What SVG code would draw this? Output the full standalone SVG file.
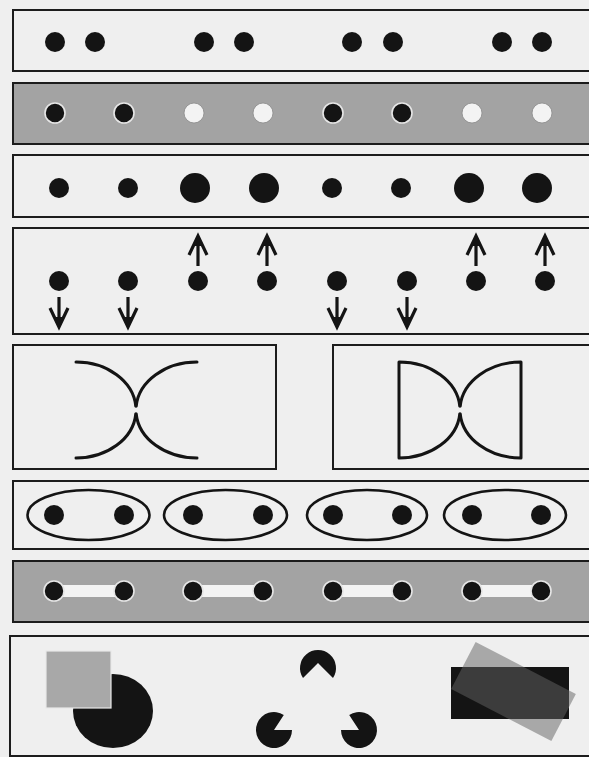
<svg xmlns="http://www.w3.org/2000/svg" width="589" height="757" viewBox="0 0 589 757">
<style>
.panel{fill:#efefef;stroke:#1c1c1c;stroke-width:2}
.gpanel{fill:#a3a3a3;stroke:#1c1c1c;stroke-width:2}
.d{fill:#141414}
.dh{fill:#141414;stroke:#e6e6e6;stroke-width:1.6}
.w{fill:#f3f3f3;stroke:#8a8a8a;stroke-width:0.8}
.curve{fill:none;stroke:#141414;stroke-width:3;stroke-linecap:round;stroke-linejoin:round}
.ell{fill:none;stroke:#141414;stroke-width:2.6}
.arr{fill:none;stroke:#141414;stroke-width:3.2;stroke-linecap:butt;stroke-linejoin:miter}
.tip{fill:#141414}
.bar{fill:#f3f3f3}
</style>
<defs>
<g id="arrowUp"><path class="arr" d="M0,266 L0,240 M-9,255 L0,236 L9,255"/><path class="tip" d="M0,234 L-4,246 L4,246 Z"/></g>
<g id="arrowDown"><path class="arr" d="M0,297 L0,323 M-9,308 L0,327 L9,308"/><path class="tip" d="M0,329 L-4,317 L4,317 Z"/></g>
<clipPath id="blackClip"><rect x="451" y="667" width="118" height="52"/></clipPath>
</defs>
<rect width="589" height="757" fill="#efefef"/>

<g id="row1">
<rect class="panel" x="13" y="10" width="590" height="61"/>
<circle class="d" cx="55" cy="42" r="10"/><circle class="d" cx="95" cy="42" r="10"/>
<circle class="d" cx="204" cy="42" r="10"/><circle class="d" cx="244" cy="42" r="10"/>
<circle class="d" cx="352" cy="42" r="10"/><circle class="d" cx="393" cy="42" r="10"/>
<circle class="d" cx="502" cy="42" r="10"/><circle class="d" cx="542" cy="42" r="10"/>
</g>

<g id="row2">
<rect class="gpanel" x="13" y="83" width="590" height="61"/>
<circle class="dh" cx="55" cy="113" r="10"/><circle class="dh" cx="124" cy="113" r="10"/>
<circle class="w" cx="194" cy="113" r="10"/><circle class="w" cx="263" cy="113" r="10"/>
<circle class="dh" cx="333" cy="113" r="10"/><circle class="dh" cx="402" cy="113" r="10"/>
<circle class="w" cx="472" cy="113" r="10"/><circle class="w" cx="542" cy="113" r="10"/>
</g>

<g id="row3">
<rect class="panel" x="13" y="155" width="590" height="62"/>
<circle class="d" cx="59" cy="188" r="10"/><circle class="d" cx="128" cy="188" r="10"/>
<circle class="d" cx="195" cy="188" r="15"/><circle class="d" cx="264" cy="188" r="15"/>
<circle class="d" cx="332" cy="188" r="10"/><circle class="d" cx="401" cy="188" r="10"/>
<circle class="d" cx="469" cy="188" r="15"/><circle class="d" cx="537" cy="188" r="15"/>
</g>

<g id="row4">
<rect class="panel" x="13" y="228" width="590" height="106"/>
<circle class="d" cx="59" cy="281" r="10"/><circle class="d" cx="128" cy="281" r="10"/>
<circle class="d" cx="198" cy="281" r="10"/><circle class="d" cx="267" cy="281" r="10"/>
<circle class="d" cx="337" cy="281" r="10"/><circle class="d" cx="407" cy="281" r="10"/>
<circle class="d" cx="476" cy="281" r="10"/><circle class="d" cx="545" cy="281" r="10"/>
</g>

<g id="connectors">
<use href="#arrowDown" x="59"/><use href="#arrowDown" x="128"/>
<use href="#arrowUp" x="198"/><use href="#arrowUp" x="267"/>
<use href="#arrowDown" x="337"/><use href="#arrowDown" x="407"/>
<use href="#arrowUp" x="476"/><use href="#arrowUp" x="545"/>
</g>

<g id="curvesOpen">
<rect class="panel" x="13" y="345" width="263" height="124"/>
<path class="curve" d="M76,362 A60,48 0 0 1 135.8,406 M135.8,414 A60,48 0 0 1 76,458"/>
<path class="curve" d="M197,362 A61,48 0 0 0 136.2,406 M136.2,414 A61,48 0 0 0 197,458"/>
</g>

<g id="curvesClosed">
<rect class="panel" x="333" y="345" width="270" height="124"/>
<path class="curve" d="M399,458 L399,362 A61,48 0 0 1 459.8,406 M459.8,414 A61,48 0 0 1 399,458"/>
<path class="curve" d="M521,458 L521,362 A61,48 0 0 0 460.2,406 M460.2,414 A61,48 0 0 0 521,458"/>
</g>

<g id="row6">
<rect class="panel" x="13" y="481" width="590" height="68"/>
<ellipse class="ell" cx="88.5" cy="515" rx="61" ry="25"/>
<ellipse class="ell" cx="225.5" cy="515" rx="61.5" ry="25"/>
<ellipse class="ell" cx="367" cy="515" rx="60" ry="25"/>
<ellipse class="ell" cx="505" cy="515" rx="61" ry="25"/>
<circle class="d" cx="54" cy="515" r="10"/><circle class="d" cx="124" cy="515" r="10"/>
<circle class="d" cx="193" cy="515" r="10"/><circle class="d" cx="263" cy="515" r="10"/>
<circle class="d" cx="333" cy="515" r="10"/><circle class="d" cx="402" cy="515" r="10"/>
<circle class="d" cx="472" cy="515" r="10"/><circle class="d" cx="541" cy="515" r="10"/>
</g>

<g id="row7">
<rect class="gpanel" x="13" y="561" width="590" height="61"/>
<rect class="bar" x="54" y="585" width="70" height="12"/>
<rect class="bar" x="193" y="585" width="70" height="12"/>
<rect class="bar" x="333" y="585" width="69" height="12"/>
<rect class="bar" x="472" y="585" width="69" height="12"/>
<circle class="dh" cx="54" cy="591" r="10"/><circle class="dh" cx="124" cy="591" r="10"/>
<circle class="dh" cx="193" cy="591" r="10"/><circle class="dh" cx="263" cy="591" r="10"/>
<circle class="dh" cx="333" cy="591" r="10"/><circle class="dh" cx="402" cy="591" r="10"/>
<circle class="dh" cx="472" cy="591" r="10"/><circle class="dh" cx="541" cy="591" r="10"/>
</g>

<g id="row8">
<rect class="panel" x="10" y="636" width="593" height="120"/>
<g id="occlusion">
<ellipse cx="113" cy="711" rx="40" ry="37" fill="#141414"/>
<rect x="46" y="651" width="65" height="57" fill="#a8a8a8" stroke="#e8e8e8" stroke-width="1.2"/>
</g>
<g id="kanizsa" fill="#141414">
<path d="M303,678 A18,18 0 1 1 333,678 L318,663 Z"/>
<path d="M292,730 A18,18 0 1 1 283.8,714.9 L274,730 Z"/>
<path d="M349.2,714.9 A18,18 0 1 1 341,730 L359,730 Z"/>
</g>
<g id="transparency">
<rect x="-56.5" y="-26.5" width="113" height="53" fill="#a8a8a8" transform="translate(513.5,691.5) rotate(27.5)"/>
<rect x="451" y="667" width="118" height="52" fill="#141414"/>
<g clip-path="url(#blackClip)"><rect x="-56.5" y="-26.5" width="113" height="53" fill="#3c3c3c" transform="translate(513.5,691.5) rotate(27.5)"/></g>
</g>
</g>
</svg>
